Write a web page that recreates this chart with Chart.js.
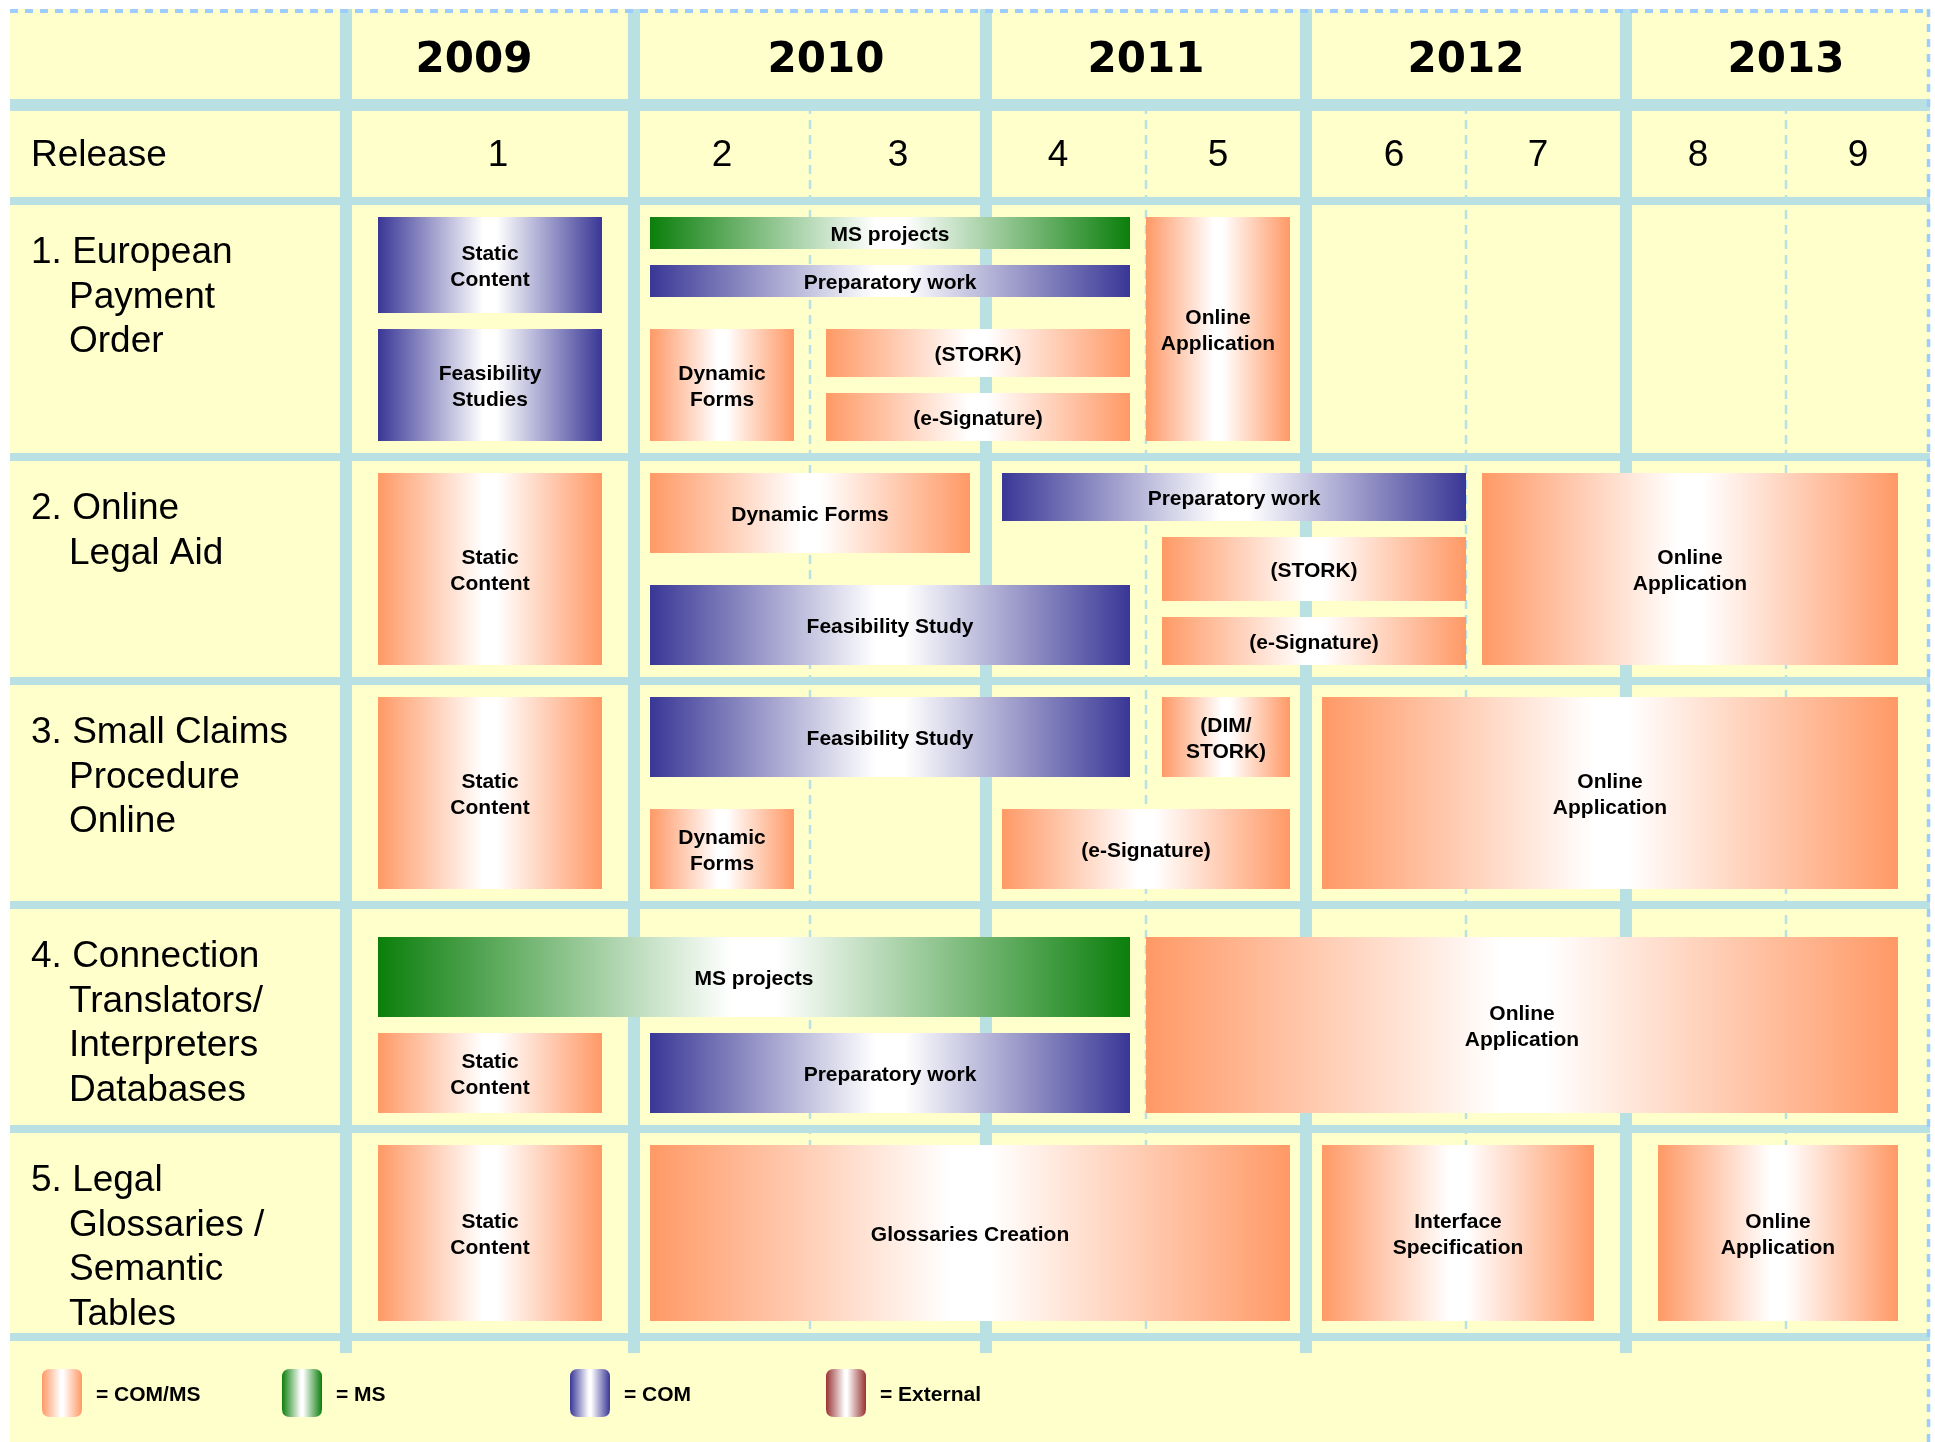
<!DOCTYPE html>
<html>
<head>
<meta charset="utf-8">
<title>Roadmap 2009 - 2013</title>
<script src="https://cdn.jsdelivr.net/npm/chart.js@4.4.1/dist/chart.umd.min.js"></script>
<style>
  html, body { margin: 0; padding: 0; background: #ffffff; }
  #wrap { width: 1935px; height: 1442px; }
</style>
</head>
<body>
<div id="wrap"><canvas id="roadmap"></canvas></div>
<script>
// Timeline axis is in grid units (x) and lane units (y)

// Header
const years = ['2009', '2010', '2011', '2012', '2013'];
const yearLabelAt = [8, 30, 50, 70, 90];
const yearEdges = [0, 18, 40, 60, 80];
const releases = ['1', '2', '3', '4', '5', '6', '7', '8', '9'];
const releaseLabelAt = [9.5, 23.5, 34.5, 44.5, 54.5, 65.5, 74.5, 84.5, 94.5];
const releaseEdges = [0, 18, 29, 40, 50, 60, 70, 80, 90, 99];

// Rows
const rowLabels = [
    ['1. European', 'Payment', 'Order'],
    ['2. Online', 'Legal Aid'],
    ['3. Small Claims', 'Procedure', 'Online'],
    ['4. Connection', 'Translators/', 'Interpreters', 'Databases'],
    ['5. Legal', 'Glossaries /', 'Semantic', 'Tables']
];
const rowEdges = [0, 16, 30, 44, 58, 71];

// Tasks
const taskNames = [
    'Static\nContent', 'Feasibility\nStudies', 'MS projects', 'Preparatory work',
    'Dynamic\nForms', '(STORK)', '(e-Signature)', 'Online\nApplication',
    'Static\nContent', 'Dynamic Forms', 'Feasibility Study', 'Preparatory work',
    '(STORK)', '(e-Signature)', 'Online\nApplication',
    'Static\nContent', 'Feasibility Study', '(DIM/\nSTORK)', 'Dynamic\nForms',
    '(e-Signature)', 'Online\nApplication',
    'MS projects', 'Static\nContent', 'Preparatory work', 'Online\nApplication',
    'Static\nContent', 'Glossaries Creation', 'Interface\nSpecification', 'Online\nApplication'
];
const taskKinds = [
    'COM', 'COM', 'MS', 'COM', 'COM/MS', 'COM/MS', 'COM/MS', 'COM/MS',
    'COM/MS', 'COM/MS', 'COM', 'COM', 'COM/MS', 'COM/MS', 'COM/MS',
    'COM/MS', 'COM', 'COM/MS', 'COM/MS', 'COM/MS', 'COM/MS',
    'MS', 'COM/MS', 'COM', 'COM/MS',
    'COM/MS', 'COM/MS', 'COM/MS', 'COM/MS'
];
const taskStart = [2, 2, 19, 19, 19, 30, 30, 50, 2, 19, 19, 41, 51, 51, 71, 2, 19, 51, 19, 41, 61, 2, 2, 19, 50, 2, 19, 61, 82];
const taskEnd = [16, 16, 49, 49, 28, 49, 49, 59, 16, 39, 49, 70, 70, 70, 97, 16, 49, 59, 28, 59, 97, 49, 16, 49, 97, 16, 59, 78, 97];
const taskTop = [1, 8, 1, 4, 8, 8, 12, 1, 17, 17, 24, 17, 21, 26, 17, 31, 31, 31, 38, 38, 31, 46, 52, 52, 46, 59, 59, 59, 59];
const taskBottom = [7, 15, 3, 6, 15, 11, 15, 15, 29, 22, 29, 20, 25, 29, 29, 43, 36, 36, 43, 43, 43, 51, 57, 57, 57, 70, 70, 70, 70];

// Legend
const kinds = ['COM/MS', 'MS', 'COM', 'External'];
const legendNames = ['= COM/MS', '= MS', '= COM', '= External'];
const legendAt = [-19, -4, 14, 30];

const KIND_COLORS = {
    'COM/MS': '#ff9966',
    'MS': '#0b7f0b',
    'COM': '#393796',
    'External': '#993333'
};
const SHEET = '#ffffcc';
const BAND = '#b9e0e3';
const BORDER = '#9dcdfd';

function barGradient(ctx, x0, x1, color) {
    if (!Number.isFinite(x0) || !Number.isFinite(x1) || x0 === x1) return color;
    const g = ctx.createLinearGradient(x0, 0, x1, 0);
    g.addColorStop(0, color);
    g.addColorStop(0.47, '#ffffff');
    g.addColorStop(0.53, '#ffffff');
    g.addColorStop(1, color);
    return g;
}

function roundedRect(ctx, x, y, w, h, r) {
    ctx.beginPath();
    ctx.moveTo(x + r, y);
    ctx.lineTo(x + w - r, y);
    ctx.quadraticCurveTo(x + w, y, x + w, y + r);
    ctx.lineTo(x + w, y + h - r);
    ctx.quadraticCurveTo(x + w, y + h, x + w - r, y + h);
    ctx.lineTo(x + r, y + h);
    ctx.quadraticCurveTo(x, y + h, x, y + h - r);
    ctx.lineTo(x, y + r);
    ctx.quadraticCurveTo(x, y, x + r, y);
    ctx.closePath();
}

// One dataset per colour kind, floating bars [start, end]
const datasets = kinds.filter(k => taskKinds.includes(k)).map(kind => {
    const data = [];
    taskNames.forEach((name, i) => {
        if (taskKinds[i] !== kind) return;
        data.push({
            x: [taskStart[i], taskEnd[i]],
            y: (taskTop[i] + taskBottom[i]) / 2,
            top: taskTop[i],
            bottom: taskBottom[i],
            name: name
        });
    });
    return {
        label: kind,
        data: data,
        grouped: false,
        borderWidth: 0,
        inflateAmount: 0,
        backgroundColor: function(c) {
            const color = KIND_COLORS[kind];
            if (c.type !== 'data' || !c.raw) return color;
            const xs = c.chart.scales.x;
            if (!xs) return color;
            return barGradient(c.chart.ctx, xs.getPixelForValue(c.raw.x[0]), xs.getPixelForValue(c.raw.x[1]), color);
        }
    };
});

// Bars get their lane height from the data (top/bottom) through the y scale
const laneHeights = {
    id: 'laneHeights',
    afterDatasetUpdate(chart, args) {
        const ys = chart.scales.y;
        const ds = chart.data.datasets[args.index];
        args.meta.data.forEach((bar, i) => {
            const d = ds.data[i];
            const y0 = ys.getPixelForValue(d.top);
            const y1 = ys.getPixelForValue(d.bottom);
            bar.y = (y0 + y1) / 2;
            bar.height = y1 - y0;
        });
    }
};

const roadmapGrid = {
    id: 'roadmapGrid',
    beforeDraw(chart) {
        const { ctx } = chart;
        const xs = chart.scales.x, ys = chart.scales.y;
        const left = xs.getPixelForValue(xs.min);
        const right = xs.getPixelForValue(xs.max);
        const top = ys.getPixelForValue(ys.min);
        ctx.save();
        ctx.fillStyle = '#ffffff';
        ctx.fillRect(0, 0, chart.width, chart.height);
        ctx.fillStyle = SHEET;
        ctx.fillRect(left, top, right - left, chart.height - top);
        ctx.restore();
    },
    beforeDatasetsDraw(chart) {
        const { ctx } = chart;
        const xs = chart.scales.x, ys = chart.scales.y;
        const left = xs.getPixelForValue(xs.min);
        const right = xs.getPixelForValue(xs.max);
        const top = ys.getPixelForValue(ys.min);
        const headerBand = ys.getPixelForValue(-6);
        const lastRow = ys.getPixelForValue(rowEdges[rowEdges.length - 1]);

        ctx.save();
        // dashed release separators
        ctx.strokeStyle = BAND;
        ctx.lineWidth = 2.5;
        ctx.setLineDash([9, 6]);
        releaseEdges.slice(1, -1).forEach(u => {
            if (yearEdges.includes(u)) return;
            const x = xs.getPixelForValue(u);
            ctx.beginPath();
            ctx.moveTo(x, headerBand);
            ctx.lineTo(x, lastRow);
            ctx.stroke();
        });
        ctx.setLineDash([]);

        // year separators
        ctx.fillStyle = BAND;
        yearEdges.forEach(u => {
            const x = xs.getPixelForValue(u);
            ctx.fillRect(x - 6, top, 12, lastRow + 16 - top);
        });
        // row bands
        ctx.fillRect(left, headerBand - 6, right - left, 12);
        rowEdges.forEach(v => {
            const y = ys.getPixelForValue(v);
            ctx.fillRect(left, y - 4, right - left, 8);
        });

        // sheet border, top and right
        ctx.strokeStyle = BORDER;
        ctx.setLineDash([8, 7]);
        ctx.lineWidth = 4;
        ctx.beginPath();
        ctx.moveTo(left, top + 2);
        ctx.lineTo(right, top + 2);
        ctx.stroke();
        ctx.lineWidth = 3.5;
        ctx.beginPath();
        ctx.moveTo(right - 1.5, top);
        ctx.lineTo(right - 1.5, chart.height);
        ctx.stroke();
        ctx.setLineDash([]);

        // header texts
        ctx.fillStyle = '#000000';
        ctx.textAlign = 'center';
        ctx.textBaseline = 'alphabetic';
        ctx.font = 'bold 42px "DejaVu Sans"';
        years.forEach((yr, i) => {
            ctx.fillText(yr, xs.getPixelForValue(yearLabelAt[i]), ys.getPixelForValue(-9) + 15);
        });
        ctx.font = '37px "Liberation Sans"';
        releases.forEach((r, i) => {
            ctx.fillText(r, xs.getPixelForValue(releaseLabelAt[i]), ys.getPixelForValue(-3) + 13);
        });
        ctx.textAlign = 'left';
        ctx.fillText('Release', left + 21, ys.getPixelForValue(-3) + 13);

        // row labels
        rowLabels.forEach((lines, r) => {
            const rowTop = ys.getPixelForValue(rowEdges[r]);
            lines.forEach((line, i) => {
                ctx.fillText(line, left + (i === 0 ? 21 : 59), rowTop + 62 + 44.5 * i);
            });
        });
        ctx.restore();
    },
    afterDatasetsDraw(chart) {
        const { ctx } = chart;
        ctx.save();
        ctx.fillStyle = '#000000';
        ctx.textAlign = 'center';
        ctx.textBaseline = 'alphabetic';
        ctx.font = 'bold 21px "Liberation Sans"';
        chart.data.datasets.forEach((ds, di) => {
            chart.getDatasetMeta(di).data.forEach((bar, i) => {
                const lines = ds.data[i].name.split('\n');
                const cx = (bar.x + bar.base) / 2;
                lines.forEach((line, li) => {
                    const cy = bar.y + (li - (lines.length - 1) / 2) * 26;
                    ctx.fillText(line, cx, cy + 7.6);
                });
            });
        });
        ctx.restore();
    },
    afterDraw(chart) {
        const { ctx } = chart;
        const xs = chart.scales.x, ys = chart.scales.y;
        const y0 = ys.getPixelForValue(73);
        const y1 = ys.getPixelForValue(76);
        ctx.save();
        ctx.font = 'bold 21px "Liberation Sans"';
        ctx.textAlign = 'left';
        ctx.textBaseline = 'alphabetic';
        kinds.forEach((kind, i) => {
            const x = xs.getPixelForValue(legendAt[i]);
            ctx.fillStyle = barGradient(ctx, x, x + 40, KIND_COLORS[kind]);
            roundedRect(ctx, x, y0, 40, y1 - y0, 8);
            ctx.fill();
            ctx.fillStyle = '#000000';
            ctx.fillText(legendNames[i], x + 54, (y0 + y1) / 2 + 8);
        });
        ctx.restore();
    }
};

new Chart(document.getElementById('roadmap'), {
    type: 'bar',
    data: { datasets: datasets },
    options: {
        indexAxis: 'y',
        responsive: true,
        maintainAspectRatio: false,
        animation: false,
        events: [],
        layout: { padding: { left: 10, right: 5, top: 9, bottom: 105 } },
        scales: {
            x: { type: 'linear', min: -21, max: 99, offset: false, display: false },
            y: { type: 'linear', min: -12, max: 71, reverse: true, offset: false, display: false }
        },
        plugins: {
            legend: { display: false },
            tooltip: { enabled: false }
        }
    },
    plugins: [laneHeights, roadmapGrid]
});
</script>
</body>
</html>
